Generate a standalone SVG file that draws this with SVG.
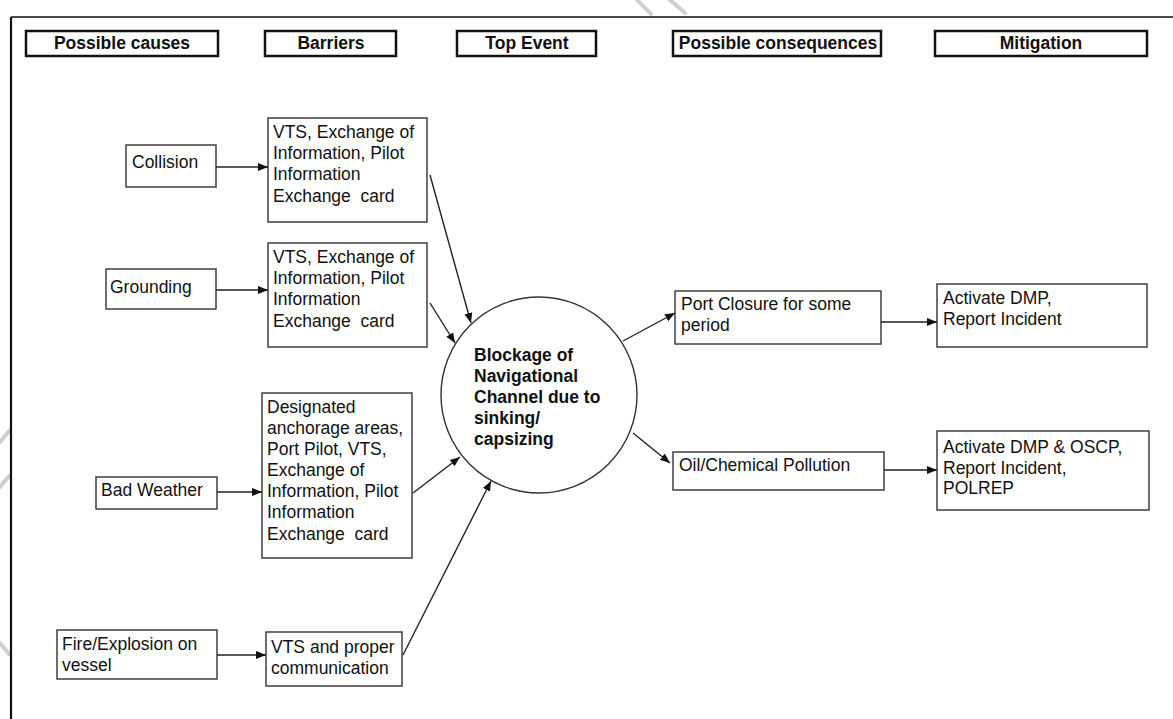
<svg xmlns="http://www.w3.org/2000/svg" width="1173" height="719" viewBox="0 0 1173 719">
  <style>
    .hdr { fill: #fff; stroke: #111; stroke-width: 2.5; }
    .hdr-t { font-family: "Liberation Sans", Arial, sans-serif; font-size: 17.5px; font-weight: bold; fill: #111; text-anchor: middle; }
    .box { fill: #fff; stroke: #333; stroke-width: 1.4; }
    .t { font-family: "Liberation Sans", Arial, sans-serif; font-size: 17.5px; fill: #111; }
    .tb { font-family: "Liberation Sans", Arial, sans-serif; font-size: 17.5px; font-weight: bold; fill: #111; }
    .edge { fill: none; stroke: #222; stroke-width: 1.4; marker-end: url(#arrow); }
    .wm { stroke: #cfcfcf; stroke-width: 4; stroke-linecap: round; fill: none; }
  </style>
  <defs>
    <marker id="arrow" viewBox="0 0 10 10" refX="10" refY="5" markerWidth="10" markerHeight="10" markerUnits="userSpaceOnUse" orient="auto">
      <path d="M0,1 L10,5 L0,9 Z" fill="#111"/>
    </marker>
  </defs>

  <rect width="1173" height="719" fill="#fff"/>

  <!-- faint background strokes -->
  <g id="background-marks">
    <line class="wm" x1="0" y1="442" x2="9" y2="431"/>
    <line class="wm" x1="0" y1="487" x2="9" y2="476"/>
    <line class="wm" x1="0" y1="643" x2="9" y2="654"/>
    <line class="wm" x1="637" y1="0" x2="651" y2="14"/>
    <line class="wm" x1="670" y1="0" x2="685" y2="13"/>
  </g>

  <!-- page frame -->
  <g id="frame">
    <line x1="11" y1="17" x2="1173" y2="17" stroke="#111" stroke-width="1.3"/>
    <line x1="11" y1="17" x2="11" y2="719" stroke="#111" stroke-width="2.2"/>
  </g>

  <!-- column headers -->
  <g id="hdr-causes"><rect class="hdr" x="26" y="31" width="192" height="25"/><text class="hdr-t" x="122" y="49">Possible causes</text></g>
  <g id="hdr-barriers"><rect class="hdr" x="265" y="31" width="131" height="25"/><text class="hdr-t" x="331" y="49">Barriers</text></g>
  <g id="hdr-top"><rect class="hdr" x="457" y="31" width="139" height="25"/><text class="hdr-t" x="527" y="49">Top Event</text></g>
  <g id="hdr-consequences"><rect class="hdr" x="673" y="31" width="208" height="25"/><text class="hdr-t" x="778" y="49">Possible consequences</text></g>
  <g id="hdr-mitigation"><rect class="hdr" x="935" y="31" width="212" height="25"/><text class="hdr-t" x="1041" y="49">Mitigation</text></g>

  <!-- causes -->
  <g id="cause-collision"><rect class="box" x="126" y="145" width="90" height="42"/><text class="t" x="132" y="168">Collision</text></g>
  <g id="cause-grounding"><rect class="box" x="106" y="269" width="110" height="40"/><text class="t" x="110" y="293">Grounding</text></g>
  <g id="cause-weather"><rect class="box" x="96" y="477" width="121" height="32"/><text class="t" x="101" y="496">Bad Weather</text></g>
  <g id="cause-fire"><rect class="box" x="57" y="630" width="160" height="49"/><text class="t" x="62" y="650">Fire/Explosion on</text><text class="t" x="62" y="671">vessel</text></g>

  <!-- barriers -->
  <g id="barrier-1"><rect class="box" x="268" y="118" width="159" height="104"/>
    <text class="t" x="273" y="138">VTS, Exchange of</text><text class="t" x="273" y="159">Information, Pilot</text><text class="t" x="273" y="180">Information</text><text class="t" x="273" y="202" xml:space="preserve">Exchange  card</text></g>
  <g id="barrier-2"><rect class="box" x="268" y="243" width="159" height="104"/>
    <text class="t" x="273" y="263">VTS, Exchange of</text><text class="t" x="273" y="284">Information, Pilot</text><text class="t" x="273" y="305">Information</text><text class="t" x="273" y="327" xml:space="preserve">Exchange  card</text></g>
  <g id="barrier-3"><rect class="box" x="262" y="393" width="150" height="165"/>
    <text class="t" x="267" y="413">Designated</text><text class="t" x="267" y="434">anchorage areas,</text><text class="t" x="267" y="455">Port Pilot, VTS,</text><text class="t" x="267" y="476">Exchange of</text><text class="t" x="267" y="497">Information, Pilot</text><text class="t" x="267" y="518">Information</text><text class="t" x="267" y="540" xml:space="preserve">Exchange  card</text></g>
  <g id="barrier-4"><rect class="box" x="266" y="632" width="136" height="54"/>
    <text class="t" x="271" y="653">VTS and proper</text><text class="t" x="271" y="674">communication</text></g>

  <!-- top event -->
  <g id="top-event"><circle cx="539" cy="395" r="98" fill="#fff" stroke="#333" stroke-width="1.4"/>
    <text class="tb" x="474" y="361">Blockage of</text><text class="tb" x="474" y="382">Navigational</text><text class="tb" x="474" y="403">Channel due to</text><text class="tb" x="474" y="424">sinking/</text><text class="tb" x="474" y="445">capsizing</text></g>

  <!-- consequences -->
  <g id="cons-closure"><rect class="box" x="675" y="291" width="206" height="53"/><text class="t" x="681" y="310">Port Closure for some</text><text class="t" x="681" y="331">period</text></g>
  <g id="cons-pollution"><rect class="box" x="673" y="452" width="211" height="38"/><text class="t" x="679" y="471">Oil/Chemical Pollution</text></g>

  <!-- mitigation -->
  <g id="mit-closure"><rect class="box" x="937" y="284" width="210" height="63"/><text class="t" x="943" y="304">Activate DMP,</text><text class="t" x="943" y="325">Report Incident</text></g>
  <g id="mit-pollution"><rect class="box" x="937" y="431" width="212" height="79"/><text class="t" x="943" y="453">Activate DMP &amp; OSCP,</text><text class="t" x="943" y="474">Report Incident,</text><text class="t" x="943" y="494">POLREP</text></g>

  <!-- connectors -->
  <g id="connectors">
    <line class="edge" x1="216" y1="167" x2="268" y2="167"/>
    <line class="edge" x1="216" y1="290" x2="268" y2="290"/>
    <line class="edge" x1="217" y1="492" x2="262" y2="492"/>
    <line class="edge" x1="217" y1="655" x2="266" y2="655"/>
    <line class="edge" x1="430" y1="175" x2="471" y2="323"/>
    <line class="edge" x1="430" y1="303" x2="455" y2="343"/>
    <line class="edge" x1="413" y1="493" x2="460" y2="457"/>
    <line class="edge" x1="403" y1="655" x2="491" y2="481"/>
    <line class="edge" x1="623" y1="341" x2="675" y2="313"/>
    <line class="edge" x1="633" y1="433" x2="670" y2="463"/>
    <line class="edge" x1="881" y1="322" x2="937" y2="322"/>
    <line class="edge" x1="884" y1="470" x2="937" y2="470"/>
  </g>
</svg>
